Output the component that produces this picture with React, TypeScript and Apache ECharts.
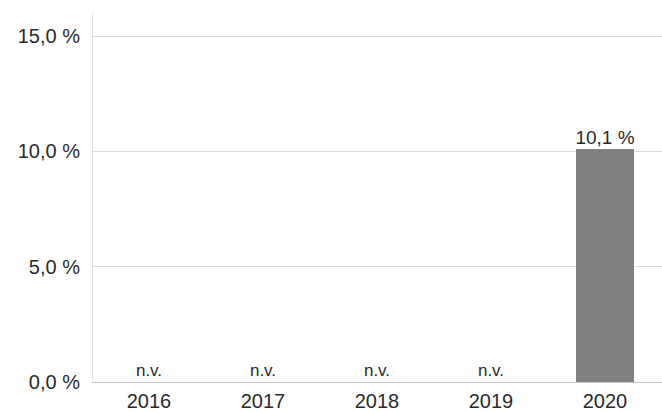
import React, { useEffect, useRef } from "react";
import * as echarts from "echarts";

const categories = ["2016", "2017", "2018", "2019", "2020"];
const values: (number | null)[] = [null, null, null, null, 10.1];
const yTicks = [0, 5, 10, 15];
const missingLabel = "n.v.";

const fmt = (v: number) => v.toFixed(1).replace(".", ",") + " %";

export default function App() {
  const ref = useRef<HTMLDivElement>(null);
  useEffect(() => {
    if (!ref.current) return;
    const chart = echarts.init(ref.current, undefined, { renderer: "svg" });
    const font = "Liberation Sans, Arial, sans-serif";
    chart.setOption({
      animation: false,
      backgroundColor: "#ffffff",
      grid: { left: 92, right: -4, top: 36, bottom: 30, containLabel: false },
      xAxis: {
        type: "category",
        data: categories,
        axisLine: { show: true, lineStyle: { color: "#c8c8c8", width: 1 } },
        axisTick: { show: false },
        axisLabel: { color: "#2a2a2a", fontSize: 20, fontFamily: font, margin: 9 },
      },
      yAxis: {
        type: "value",
        min: yTicks[0],
        max: yTicks[yTicks.length - 1],
        interval: 5,
        axisLine: { show: true, lineStyle: { color: "#e0e0e0", width: 1 } },
        axisTick: { show: false },
        splitLine: { show: true, lineStyle: { color: "#dcdcdc", width: 1 } },
        axisLabel: {
          color: "#2a2a2a",
          fontSize: 20,
          fontFamily: font,
          margin: 12,
          formatter: (v: number) => fmt(v),
        },
      },
      graphic: [
        {
          type: "line",
          shape: { x1: 92.5, y1: 13, x2: 92.5, y2: 36 },
          style: { stroke: "#e0e0e0", lineWidth: 1 },
          silent: true,
        },
      ],
      series: [
        {
          type: "bar",
          barWidth: 58,
          data: values.map((v) =>
            v === null
              ? {
                  value: 0,
                  itemStyle: { color: "transparent" },
                  label: { formatter: missingLabel, fontSize: 17, distance: 3 },
                }
              : { value: v }
          ),
          itemStyle: { color: "#808080" },
          label: {
            show: true,
            position: "top",
            distance: 2,
            color: "#2a2a2a",
            fontSize: 19,
            fontFamily: font,
            formatter: (p: any) => fmt(p.value),
          },
        },
      ],
    });
    return () => chart.dispose();
  }, []);
  return <div ref={ref} style={{ width: 662, height: 412, position: "absolute", left: 0, top: 0 }} />;
}
